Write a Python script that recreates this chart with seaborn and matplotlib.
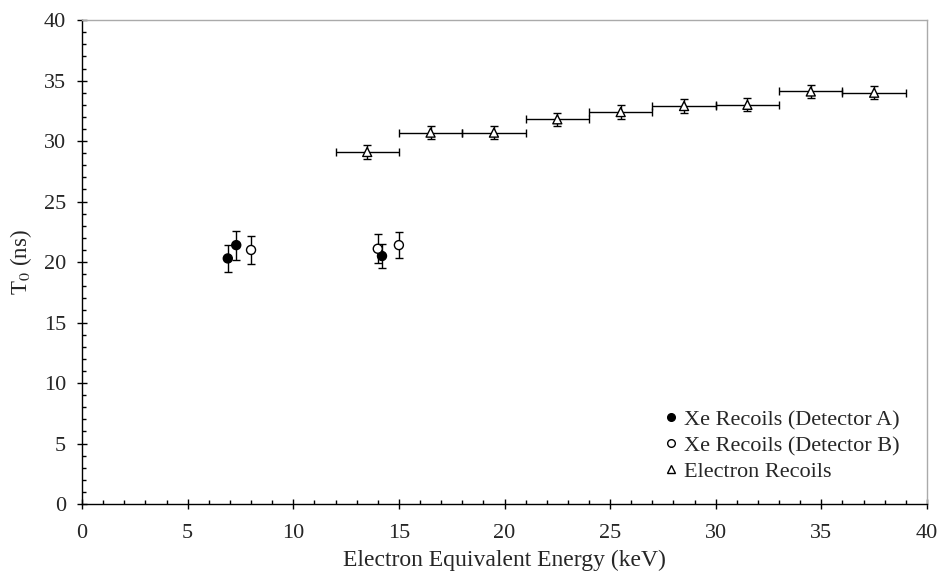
import matplotlib
matplotlib.use("Agg")
import matplotlib.pyplot as plt
import seaborn as sns
import pandas as pd
from matplotlib.ticker import MultipleLocator

# Xe recoils, detector A
xe_a_energy = [6.9, 7.3, 14.2]
xe_a_t0 = [20.3, 21.4, 20.5]
xe_a_err = [1.15, 1.2, 1.0]

# Xe recoils, detector B
xe_b_energy = [8.0, 14.0, 15.0]
xe_b_t0 = [21.0, 21.1, 21.4]
xe_b_err = [1.15, 1.2, 1.1]

# electron recoils (binned)
er_energy = [13.5, 16.5, 19.5, 22.5, 25.5, 28.5, 31.5, 34.5, 37.5]
er_bin_half = [1.5, 1.5, 1.5, 1.5, 1.5, 1.5, 1.5, 1.5, 1.5]
er_t0 = [29.1, 30.7, 30.7, 31.8, 32.4, 32.9, 33.0, 34.1, 34.0]
er_err = [0.55, 0.55, 0.55, 0.55, 0.55, 0.55, 0.55, 0.55, 0.55]

sns.set_style("ticks")
plt.rcParams["font.family"] = ["Liberation Serif", "DejaVu Serif"]
plt.rcParams["mathtext.fontset"] = "stix"

df = pd.concat([
    pd.DataFrame({"energy": xe_a_energy, "t0": xe_a_t0, "set": "Xe Recoils (Detector A)"}),
    pd.DataFrame({"energy": xe_b_energy, "t0": xe_b_t0, "set": "Xe Recoils (Detector B)"}),
    pd.DataFrame({"energy": er_energy, "t0": er_t0, "set": "Electron Recoils"}),
], ignore_index=True)

fig = plt.figure(figsize=(9.43, 5.83), dpi=100)
ax = fig.add_axes([0.087, 0.1355, 0.896, 0.83])

ebkw = dict(fmt="none", ecolor="black", elinewidth=1.0, capsize=3, capthick=1.0, zorder=2)
ax.errorbar(xe_a_energy, xe_a_t0, yerr=xe_a_err, **ebkw)
ax.errorbar(xe_b_energy, xe_b_t0, yerr=xe_b_err, **ebkw)
ax.errorbar(er_energy, er_t0, yerr=er_err, xerr=er_bin_half, **ebkw)

sns.scatterplot(data=df, x="energy", y="t0", hue="set", style="set",
                palette={"Xe Recoils (Detector A)": "black",
                         "Xe Recoils (Detector B)": "white",
                         "Electron Recoils": "white"},
                markers={"Xe Recoils (Detector A)": "o",
                         "Xe Recoils (Detector B)": "o",
                         "Electron Recoils": "^"},
                s=42, edgecolor="black", linewidth=1.0, zorder=3, ax=ax, legend=True)

ax.set_xlim(0, 40)
ax.set_ylim(0, 40)
ax.xaxis.set_major_locator(MultipleLocator(5))
ax.xaxis.set_minor_locator(MultipleLocator(1))
ax.yaxis.set_major_locator(MultipleLocator(5))
ax.yaxis.set_minor_locator(MultipleLocator(1))
ax.tick_params(which="major", direction="inout", length=7, width=1, labelsize=16,
               color="black")
ax.tick_params(axis="x", which="major", pad=11)
ax.tick_params(axis="y", which="major", pad=8)
ax.tick_params(which="minor", direction="in", length=3, width=1, color="black")

for s in ["left", "bottom"]:
    ax.spines[s].set_color("black")
    ax.spines[s].set_linewidth(1.0)
for s in ["top", "right"]:
    ax.spines[s].set_color("#aaaaaa")
    ax.spines[s].set_linewidth(1.0)

ax.set_xlabel("Electron Equivalent Energy (keV)", fontsize=17, labelpad=5)
ax.set_ylabel("T$_0$ (ns)", fontsize=16.5, labelpad=7)

leg = ax.legend(loc="lower right", bbox_to_anchor=(0.968, 0.045), frameon=False,
                fontsize=16, handletextpad=0.1, handlelength=1.0,
                labelspacing=0.25, borderaxespad=0, borderpad=0)
for h in leg.legend_handles:
    h.set_markersize(5.5)
    h.set_markeredgecolor("black")

fig.savefig("out.png", dpi=100)
